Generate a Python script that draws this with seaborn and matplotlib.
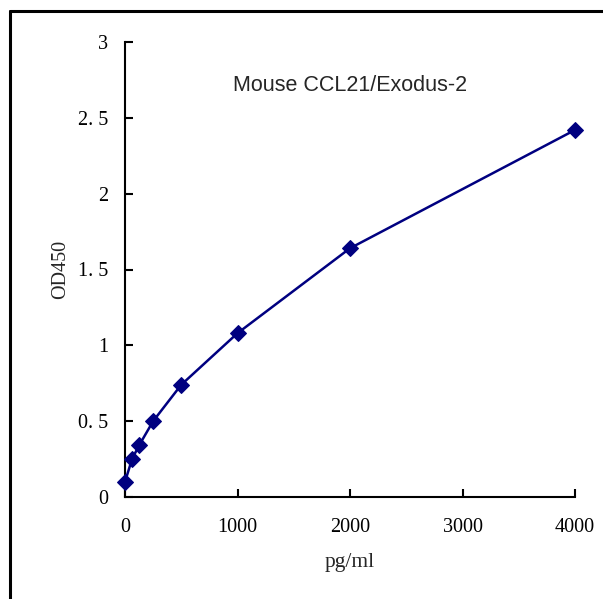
import matplotlib
matplotlib.use("Agg")
import matplotlib.pyplot as plt
import seaborn as sns
import pandas as pd

conc = [0, 62.5, 125, 250, 500, 1000, 2000, 4000]
od450 = [0.10, 0.25, 0.34, 0.50, 0.74, 1.08, 1.64, 2.42]
x_ticks = [0, 1000, 2000, 3000, 4000]
y_ticks = [0, 0.5, 1, 1.5, 2, 2.5, 3]
y_labels = ["0", "0. 5", "1", "1. 5", "2", "2. 5", "3"]

df = pd.DataFrame({"pg/ml": conc, "OD450": od450})

sns.set_style("white")
plt.rcParams['font.family'] = ['Liberation Serif', 'DejaVu Serif']

fig = plt.figure(figsize=(6.03, 5.99), dpi=100)
ax = fig.add_axes([125/603, 1 - 497/599, 450/603, 455/599])

sns.lineplot(data=df, x="pg/ml", y="OD450", ax=ax, color="#000080",
             linewidth=1.8, marker="D", markersize=8, markeredgecolor="#000080",
             clip_on=False, zorder=5)

ax.set_xlim(0, 4000)
ax.set_ylim(0, 3)
ax.set_xticks(x_ticks)
ax.set_yticks(y_ticks)
ax.set_yticklabels(y_labels)
ax.tick_params(direction="in", length=6, width=1.5, labelsize=14.5,
               left=True, bottom=True, colors="black")
ax.tick_params(axis="x", pad=15)
ax.tick_params(axis="y", pad=12)
for s in ["top", "right"]:
    ax.spines[s].set_visible(False)
for s in ["left", "bottom"]:
    ax.spines[s].set_linewidth(1.5)
    ax.spines[s].set_color("black")

ax.set_xlabel("pg/ml", fontsize=15.5, labelpad=12)
ax.set_ylabel("OD450", fontsize=14.5, labelpad=6)
ax.text(2000, 2.71, "Mouse CCL21/Exodus-2", ha="center", va="center",
        fontsize=15.5, family="Liberation Sans")

# outer frame (cut off at right and bottom like the source image)
fig.add_artist(plt.Line2D([10/603, 10/603], [0, 1 - 11/599], color="black", lw=2.2))
fig.add_artist(plt.Line2D([10/603, 1], [1 - 11/599, 1 - 11/599], color="black", lw=2.2))

fig.savefig("out.png", dpi=100)
